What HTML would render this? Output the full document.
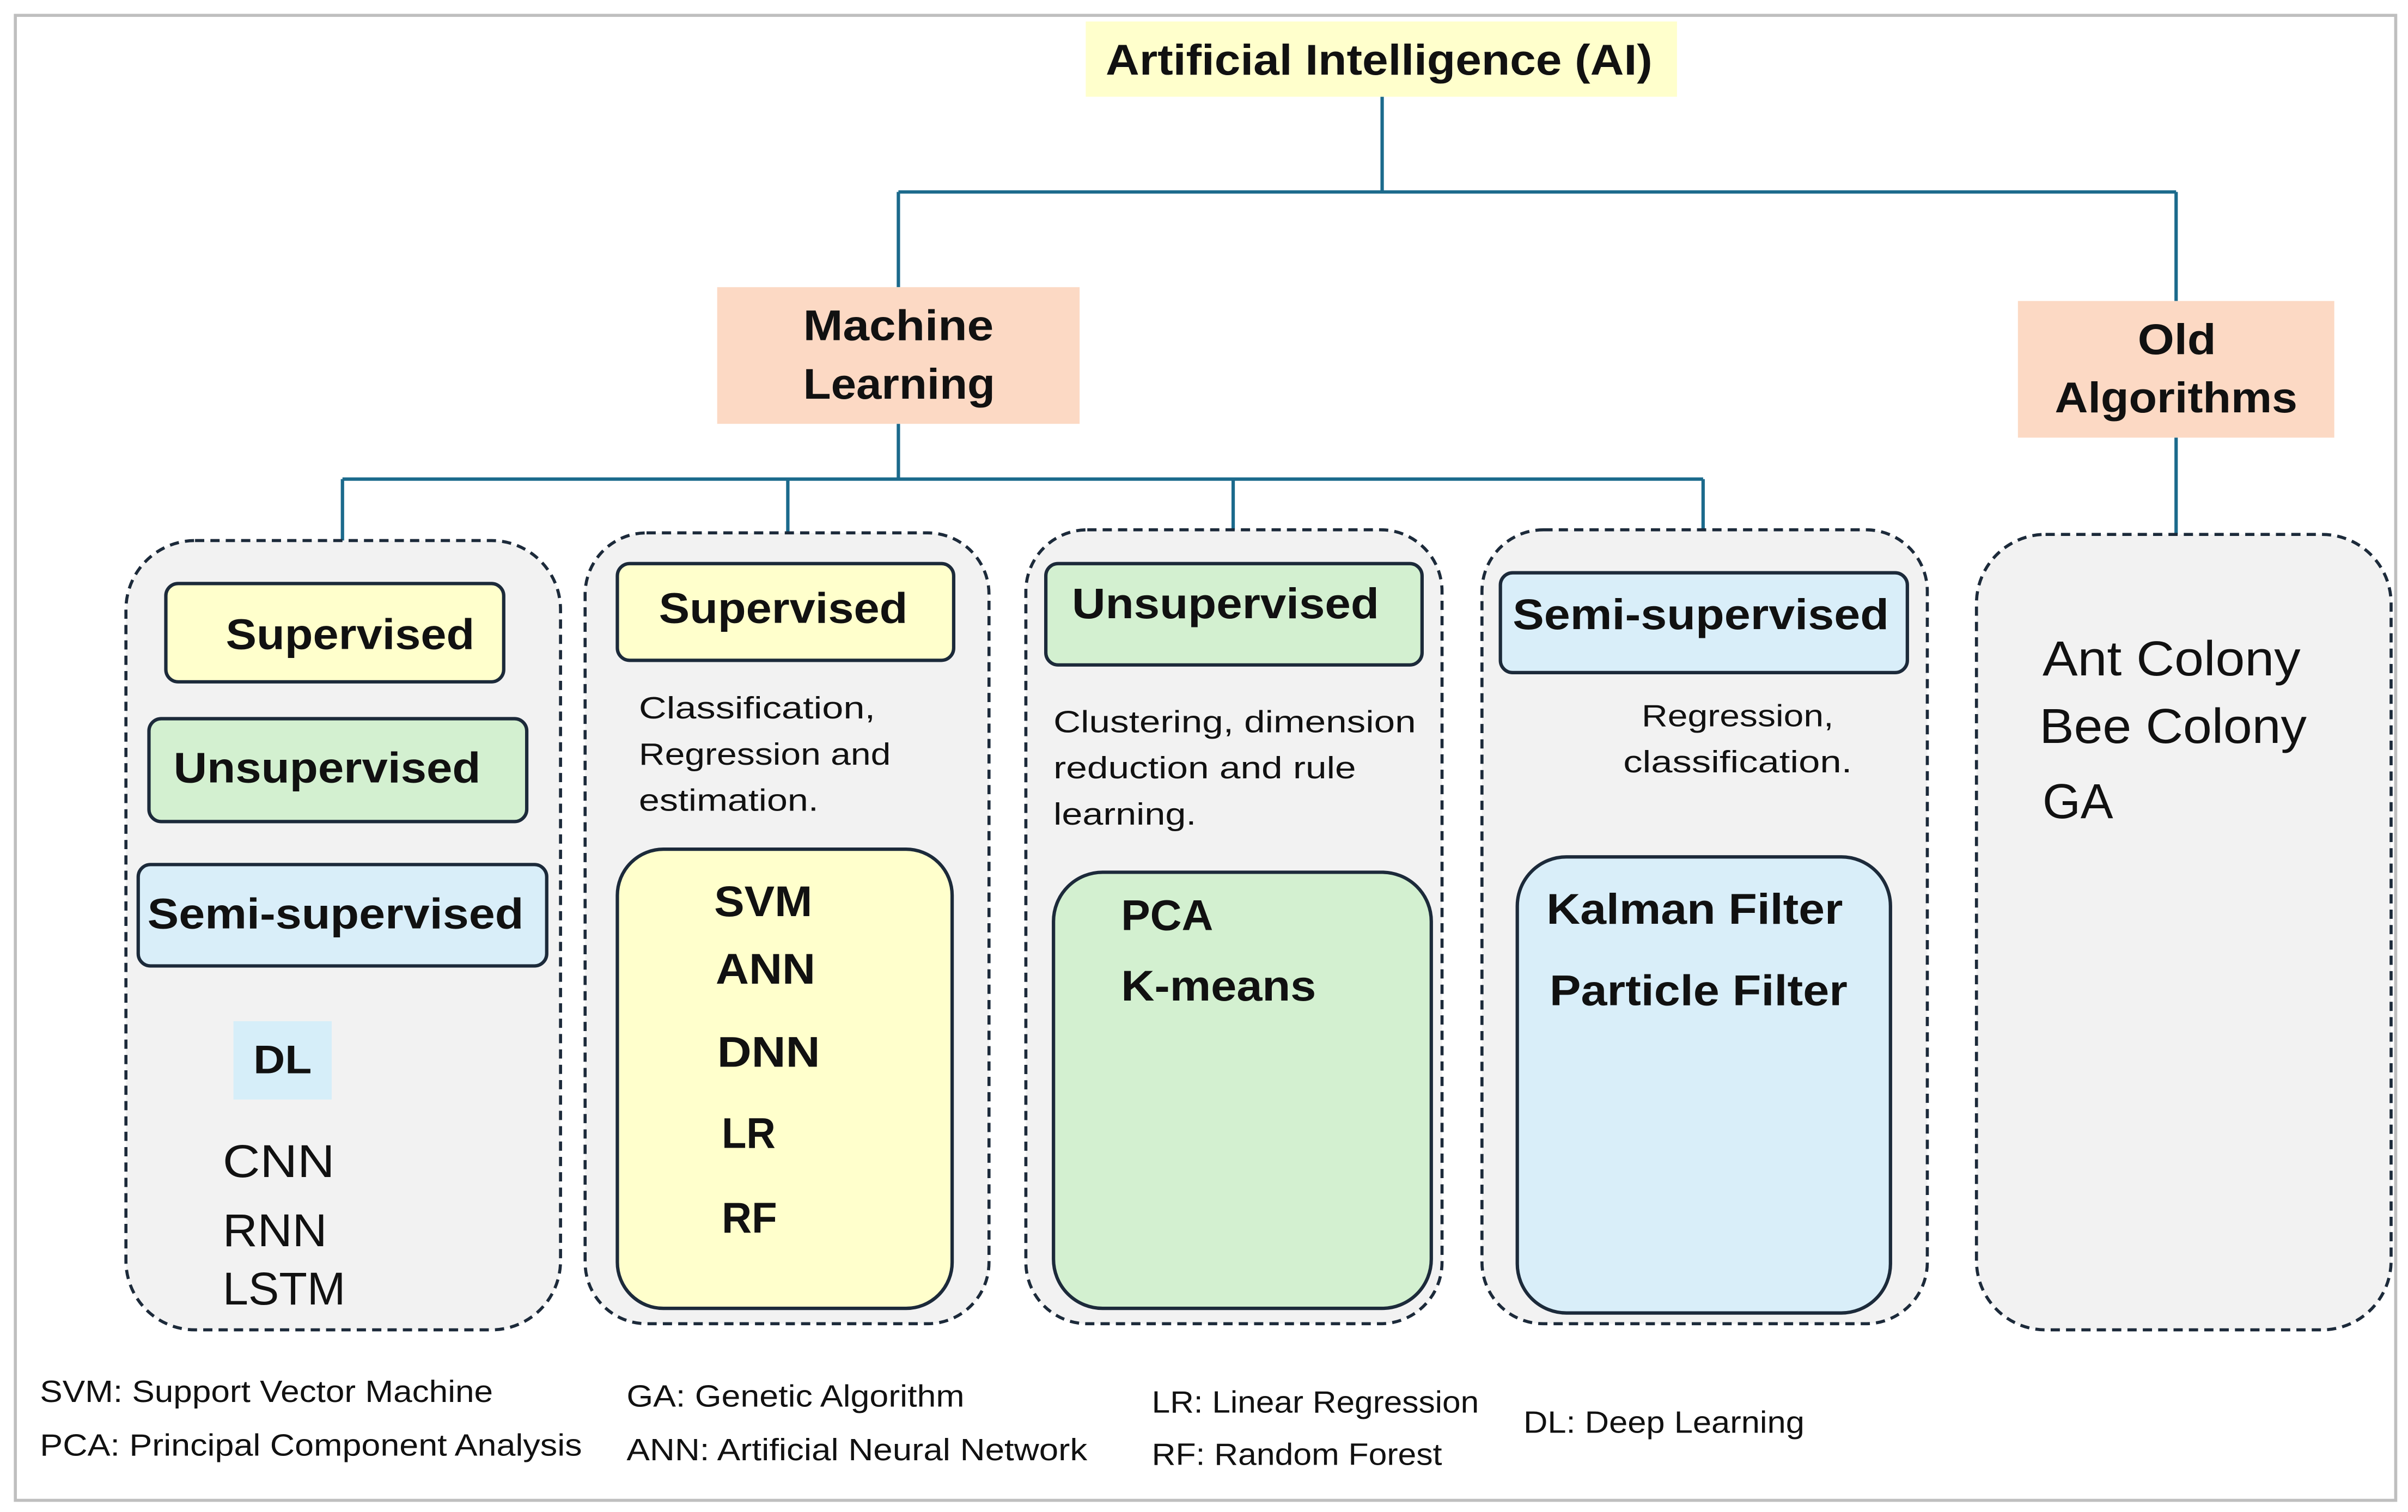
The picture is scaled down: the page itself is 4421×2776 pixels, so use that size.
<!DOCTYPE html>
<html><head><meta charset="utf-8"><style>
html,body{margin:0;padding:0;background:#fff;}
svg{display:block;}
text{font-family:"Liberation Sans",sans-serif;fill:#111;dominant-baseline:central;}
.b{font-weight:bold;}
</style></head><body>
<svg width="4421" height="2776" viewBox="0 0 1568 984.6" xmlns="http://www.w3.org/2000/svg" preserveAspectRatio="none">
<rect x="0" y="0" width="1568" height="985" fill="#fff"/>
<rect x="10" y="10" width="1550" height="967" fill="none" stroke="#bfbfbf" stroke-width="2"/>
<g stroke="#1b6a8c" stroke-width="2.2" fill="none">
<path d="M900 63V125M585 125H1417M585 125V187M1417 125V196"/>
<path d="M585 276V312M223 312H1109M223 312V352M513 312V347M803 312V345M1109 312V345M1417 285V348"/>
</g>
<rect x="707" y="14" width="385" height="49" fill="#ffffcc"/>
<text x="720" y="39" textLength="356" lengthAdjust="spacingAndGlyphs" class="b" font-size="28">Artificial Intelligence (AI)</text>
<rect x="467" y="187" width="236" height="89" fill="#fcd9c4"/>
<text x="523" y="212" textLength="124" lengthAdjust="spacingAndGlyphs" class="b" font-size="28">Machine</text>
<text x="523" y="250" textLength="125" lengthAdjust="spacingAndGlyphs" class="b" font-size="28">Learning</text>
<rect x="1314" y="196" width="206" height="89" fill="#fcd9c4"/>
<text x="1392" y="221" textLength="51" lengthAdjust="spacingAndGlyphs" class="b" font-size="28">Old</text>
<text x="1338" y="259" textLength="158" lengthAdjust="spacingAndGlyphs" class="b" font-size="28">Algorithms</text>
<g fill="#f2f2f2" stroke="#1c2a3a" stroke-width="2" stroke-dasharray="6,4">
<rect x="82" y="352" width="283" height="514" rx="45"/>
<rect x="381" y="347" width="263" height="515" rx="40"/>
<rect x="668" y="345" width="271" height="517" rx="40"/>
<rect x="965" y="345" width="290" height="517" rx="40"/>
<rect x="1287" y="348" width="270" height="518" rx="45"/>
</g>
<g stroke="#1c2a3a" stroke-width="2.2">
<rect x="108" y="380" width="220" height="64" rx="8" fill="#ffffcc"/>
<rect x="97" y="468" width="246" height="67" rx="8" fill="#d3f0d0"/>
<rect x="90" y="563" width="266" height="66" rx="8" fill="#d9eef9"/>
<rect x="402" y="367" width="219" height="63" rx="8" fill="#ffffcc"/>
<rect x="402" y="553" width="218" height="299" rx="30" fill="#ffffcc"/>
<rect x="681" y="367" width="245" height="66" rx="8" fill="#d3f0d0"/>
<rect x="686" y="568" width="246" height="284" rx="32" fill="#d3f0d0"/>
<rect x="977" y="373" width="265" height="65" rx="8" fill="#d9eef9"/>
<rect x="988" y="558" width="243" height="297" rx="32" fill="#d9eef9"/>
</g>
<rect x="152" y="665" width="64" height="51" fill="#d6eef9"/>
<text x="147" y="413" textLength="162" lengthAdjust="spacingAndGlyphs" class="b" font-size="28">Supervised</text>
<text x="113" y="500" textLength="200" lengthAdjust="spacingAndGlyphs" class="b" font-size="28">Unsupervised</text>
<text x="96" y="595" textLength="245" lengthAdjust="spacingAndGlyphs" class="b" font-size="28">Semi-supervised</text>
<text x="165" y="690" textLength="38" lengthAdjust="spacingAndGlyphs" class="b" font-size="26">DL</text>
<text x="145" y="756" textLength="73" lengthAdjust="spacingAndGlyphs" font-size="30">CNN</text>
<text x="145" y="801" textLength="68" lengthAdjust="spacingAndGlyphs" font-size="30">RNN</text>
<text x="145" y="839" textLength="80" lengthAdjust="spacingAndGlyphs" font-size="30">LSTM</text>
<text x="429" y="396" textLength="162" lengthAdjust="spacingAndGlyphs" class="b" font-size="28">Supervised</text>
<text x="416" y="461" textLength="154" lengthAdjust="spacingAndGlyphs" font-size="20">Classification,</text>
<text x="416" y="491" textLength="164" lengthAdjust="spacingAndGlyphs" font-size="20">Regression and</text>
<text x="416" y="521" textLength="117" lengthAdjust="spacingAndGlyphs" font-size="20">estimation.</text>
<text x="465" y="587" textLength="64" lengthAdjust="spacingAndGlyphs" class="b" font-size="28">SVM</text>
<text x="466" y="631" textLength="65" lengthAdjust="spacingAndGlyphs" class="b" font-size="28">ANN</text>
<text x="467" y="685" textLength="67" lengthAdjust="spacingAndGlyphs" class="b" font-size="28">DNN</text>
<text x="470" y="738" textLength="35" lengthAdjust="spacingAndGlyphs" class="b" font-size="28">LR</text>
<text x="470" y="793" textLength="36" lengthAdjust="spacingAndGlyphs" class="b" font-size="28">RF</text>
<text x="698" y="393" textLength="200" lengthAdjust="spacingAndGlyphs" class="b" font-size="28">Unsupervised</text>
<text x="686" y="470" textLength="236" lengthAdjust="spacingAndGlyphs" font-size="20">Clustering, dimension</text>
<text x="686" y="500" textLength="197" lengthAdjust="spacingAndGlyphs" font-size="20">reduction and rule</text>
<text x="686" y="530" textLength="93" lengthAdjust="spacingAndGlyphs" font-size="20">learning.</text>
<text x="730" y="596" textLength="60" lengthAdjust="spacingAndGlyphs" class="b" font-size="28">PCA</text>
<text x="730" y="642" textLength="127" lengthAdjust="spacingAndGlyphs" class="b" font-size="28">K-means</text>
<text x="985" y="400" textLength="245" lengthAdjust="spacingAndGlyphs" class="b" font-size="28">Semi-supervised</text>
<text x="1069" y="466" textLength="125" lengthAdjust="spacingAndGlyphs" font-size="20">Regression,</text>
<text x="1057" y="496" textLength="149" lengthAdjust="spacingAndGlyphs" font-size="20">classification.</text>
<text x="1007" y="592" textLength="193" lengthAdjust="spacingAndGlyphs" class="b" font-size="28">Kalman Filter</text>
<text x="1009" y="645" textLength="194" lengthAdjust="spacingAndGlyphs" class="b" font-size="28">Particle Filter</text>
<text x="1330" y="429" textLength="168" lengthAdjust="spacingAndGlyphs" font-size="32">Ant Colony</text>
<text x="1328" y="473" textLength="174" lengthAdjust="spacingAndGlyphs" font-size="32">Bee Colony</text>
<text x="1330" y="522" textLength="46" lengthAdjust="spacingAndGlyphs" font-size="32">GA</text>
<text x="26" y="906" textLength="295" lengthAdjust="spacingAndGlyphs" font-size="20">SVM: Support Vector Machine</text>
<text x="26" y="941" textLength="353" lengthAdjust="spacingAndGlyphs" font-size="20">PCA: Principal Component Analysis</text>
<text x="408" y="909" textLength="220" lengthAdjust="spacingAndGlyphs" font-size="20">GA: Genetic Algorithm</text>
<text x="408" y="944" textLength="300" lengthAdjust="spacingAndGlyphs" font-size="20">ANN: Artificial Neural Network</text>
<text x="750" y="913" textLength="213" lengthAdjust="spacingAndGlyphs" font-size="20">LR: Linear Regression</text>
<text x="750" y="947" textLength="189" lengthAdjust="spacingAndGlyphs" font-size="20">RF: Random Forest</text>
<text x="992" y="926" textLength="183" lengthAdjust="spacingAndGlyphs" font-size="20">DL: Deep Learning</text>
</svg>
</body></html>
